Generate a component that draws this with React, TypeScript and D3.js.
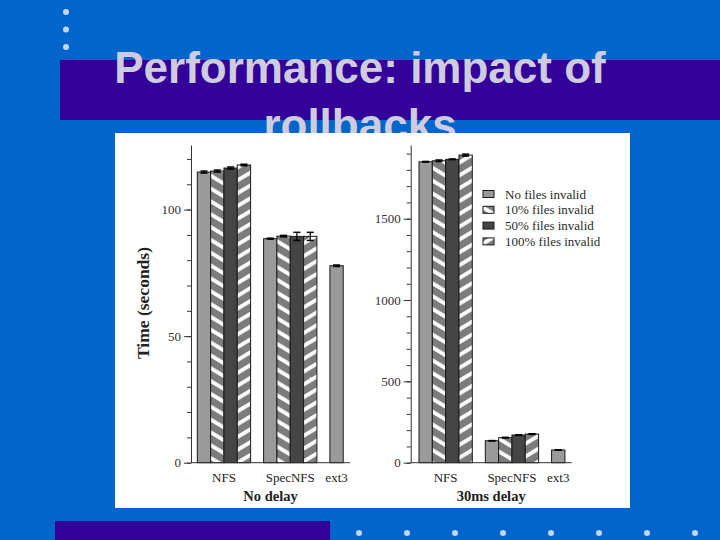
import { useEffect, useRef } from "react";
import * as d3 from "d3";

const categories = ["NFS", "SpecNFS", "ext3"];
const seriesNames = [
  "No files invalid",
  "10% files invalid",
  "50% files invalid",
  "100% files invalid",
];

// seconds, one row per category (ext3 only has the baseline run)
const noDelayTimes = [
  [114.8, 115.2, 116.4, 117.6],
  [88.5, 89.5, 89.4, 89.4],
  [77.8],
];
const noDelayErrors = [
  [0.4, 0.4, 0.4, 0.3],
  [0.2, 0.3, 1.6, 1.6],
  [0.3],
];
const delayTimes = [
  [1850, 1856, 1865, 1891],
  [135, 154, 170, 176],
  [78],
];
const delayErrors = [
  [2, 5, 2, 6],
  [1, 2, 2, 2],
  [1],
];
const noDelayTicks = [0, 50, 100];
const delayTicks = [0, 500, 1000, 1500];

const seriesFill = ["#9a9a9a", "url(#stripeBack)", "#454545", "url(#stripeFwd)"];

interface Panel {
  values: number[][];
  errors: number[][];
  yMax: number;
  ticks: number[];
  minorStep: number;
  axisX0: number;
  axisX1: number;
  barStart: number;
  label: string;
}

const panels: Panel[] = [
  {
    values: noDelayTimes,
    errors: noDelayErrors,
    yMax: 125.5,
    ticks: noDelayTicks,
    minorStep: 10,
    axisX0: 191,
    axisX1: 350,
    barStart: 197.3,
    label: "No delay",
  },
  {
    values: delayTimes,
    errors: delayErrors,
    yMax: 1953,
    ticks: delayTicks,
    minorStep: 100,
    axisX0: 410.7,
    axisX1: 571.7,
    barStart: 419,
    label: "30ms delay",
  },
];

const SERIF = "'Liberation Serif', 'Times New Roman', serif";

export default function App() {
  const svgRef = useRef<SVGSVGElement>(null);

  useEffect(() => {
    if (!svgRef.current) return;
    const svg = d3.select(svgRef.current);
    svg.selectAll("*").remove();

    // stripe patterns
    const defs = svg.append("defs");
    const addStripes = (id: string, angle: number) => {
      const p = defs
        .append("pattern")
        .attr("id", id)
        .attr("patternUnits", "userSpaceOnUse")
        .attr("width", 11)
        .attr("height", 11)
        .attr("patternTransform", `rotate(${angle})`);
      p.append("rect").attr("width", 11).attr("height", 11).attr("fill", "#7c7c7c");
      p.append("rect").attr("width", 3.8).attr("height", 11).attr("fill", "#ffffff");
    };
    addStripes("stripeBack", -59);
    addStripes("stripeFwd", 59);

    // slide background
    svg.append("rect").attr("width", 720).attr("height", 540).attr("fill", "#0066cc");
    svg.append("rect").attr("x", 60).attr("y", 60).attr("width", 660).attr("height", 60).attr("fill", "#330099");
    svg.append("rect").attr("x", 55).attr("y", 521).attr("width", 275).attr("height", 19).attr("fill", "#330099");

    [12, 29.5, 47].forEach((cy) =>
      svg.append("circle").attr("cx", 66).attr("cy", cy).attr("r", 3).attr("fill", "#c4d6ee")
    );
    d3.range(8).forEach((i) =>
      svg.append("circle").attr("cx", 359 + i * 48).attr("cy", 533).attr("r", 3).attr("fill", "#c4d6ee")
    );

    const title = svg
      .append("text")
      .attr("text-anchor", "middle")
      .attr("font-family", "'Liberation Sans', Arial, sans-serif")
      .attr("font-weight", "bold")
      .attr("font-size", 44)
      .attr("fill", "#cfcce0");
    title.append("tspan").attr("x", 360).attr("y", 83).text("Performance: impact of");
    title.append("tspan").attr("x", 360).attr("y", 140).text("rollbacks");

    // white figure area
    svg.append("rect").attr("x", 115).attr("y", 133).attr("width", 515).attr("height", 375).attr("fill", "#ffffff");

    panels.forEach((pn) => {
      const g = svg.append("g");
      const y = d3.scaleLinear().domain([0, pn.yMax]).range([462.7, 145]);
      const x = d3
        .scaleBand()
        .domain(categories)
        .range([pn.barStart, pn.barStart + 185.9])
        .paddingInner(0.196)
        .paddingOuter(0);
      const xs = d3.scaleBand().domain(seriesNames).range([0, x.bandwidth()]);

      // bars
      categories.forEach((cat, ci) => {
        pn.values[ci].forEach((v, si) => {
          const bx = (x(cat) || 0) + (xs(seriesNames[si]) || 0);
          g.append("rect")
            .attr("x", bx)
            .attr("y", y(v))
            .attr("width", xs.bandwidth())
            .attr("height", y(0) - y(v))
            .attr("fill", seriesFill[si])
            .attr("stroke", "#1a1a1a")
            .attr("stroke-width", 1);
          const e = pn.errors[ci][si];
          const cx = bx + xs.bandwidth() / 2;
          g.append("line")
            .attr("x1", cx).attr("x2", cx)
            .attr("y1", y(v - e)).attr("y2", y(v + e))
            .attr("stroke", "#000").attr("stroke-width", 1.2);
          [v - e, v + e].forEach((t) =>
            g.append("line")
              .attr("x1", cx - 3.5).attr("x2", cx + 3.5)
              .attr("y1", y(t)).attr("y2", y(t))
              .attr("stroke", "#000").attr("stroke-width", 1.5)
          );
        });
        const n = pn.values[ci].length;
        g.append("text")
          .attr("x", (x(cat) || 0) + (n * xs.bandwidth()) / 2)
          .attr("y", 482)
          .attr("text-anchor", "middle")
          .attr("font-family", SERIF)
          .attr("font-size", 13)
          .attr("fill", "#222")
          .text(cat);
      });

      // y axis: major + minor ticks
      const major = g
        .append("g")
        .attr("transform", `translate(${pn.axisX0},0)`)
        .call(
          d3
            .axisLeft(y)
            .tickValues(pn.ticks)
            .tickFormat(d3.format("d"))
            .tickSize(7)
            .tickSizeOuter(0)
            .tickPadding(3)
        );
      major.attr("font-family", SERIF).attr("font-size", 13);
      major.selectAll("text").attr("fill", "#3a2f33");
      major.selectAll("line, path").attr("stroke", "#333");

      const minor = g
        .append("g")
        .attr("transform", `translate(${pn.axisX0},0)`)
        .call(
          d3
            .axisLeft(y)
            .tickValues(d3.range(0, pn.yMax, pn.minorStep))
            .tickSize(4)
            .tickFormat(() => "")
        );
      minor.select(".domain").remove();
      minor.selectAll("line").attr("stroke", "#333");

      // x axis line
      g.append("line")
        .attr("x1", pn.axisX0).attr("x2", pn.axisX1)
        .attr("y1", y(0)).attr("y2", y(0))
        .attr("stroke", "#333").attr("stroke-width", 1);

      g.append("text")
        .attr("x", (pn.axisX0 + pn.axisX1) / 2)
        .attr("y", 501)
        .attr("text-anchor", "middle")
        .attr("font-family", SERIF)
        .attr("font-weight", "bold")
        .attr("font-size", 14.5)
        .attr("fill", "#222")
        .text(pn.label);
    });

    svg.append("text")
      .attr("transform", "translate(149,303) rotate(-90)")
      .attr("text-anchor", "middle")
      .attr("font-family", SERIF)
      .attr("font-weight", "bold")
      .attr("font-size", 17.5)
      .attr("fill", "#222")
      .text("Time (seconds)");

    // legend
    const legend = svg
      .append("g")
      .selectAll("g")
      .data(seriesNames)
      .join("g")
      .attr("transform", (d, i) => `translate(483,${194 + i * 15.8})`);
    legend
      .append("rect")
      .attr("y", -3.5)
      .attr("width", 11)
      .attr("height", 7)
      .attr("fill", (d, i) => seriesFill[i])
      .attr("stroke", "#1a1a1a");
    legend
      .append("text")
      .attr("x", 22)
      .attr("y", 4.5)
      .attr("font-family", SERIF)
      .attr("font-size", 13)
      .attr("fill", "#2a2a2a")
      .text((d) => d);
  }, []);

  return (
    <svg
      ref={svgRef}
      width={720}
      height={540}
      style={{ position: "absolute", left: 0, top: 0, display: "block" }}
    />
  );
}
